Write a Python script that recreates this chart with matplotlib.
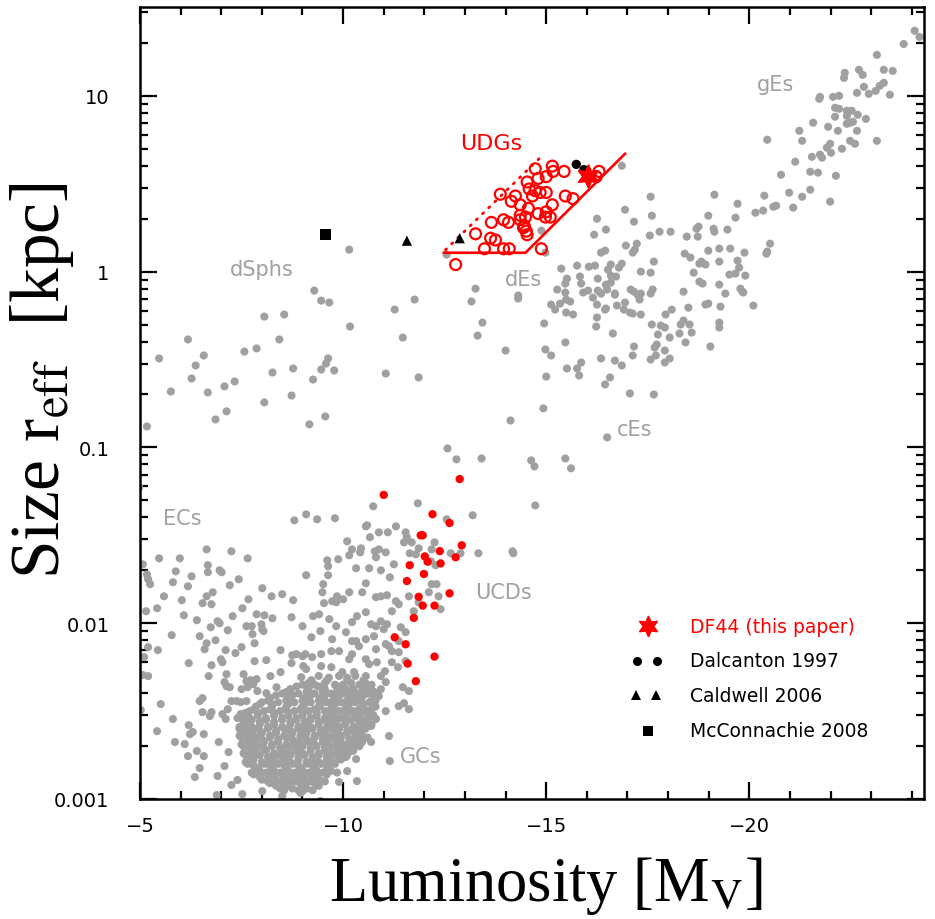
import numpy as np
import matplotlib
matplotlib.use("Agg")
import matplotlib.pyplot as plt
from matplotlib.ticker import FixedLocator, NullFormatter

# ---------------- data (Mv, log10 r_eff[kpc]) ----------------
gEs = [(-24.07, 1.37), (-24.19, 1.335), (-23.80, 1.295), (-23.14, 1.233), (-22.35, 1.131),
       (-22.33, 1.102), (-22.70, 1.148), (-22.79, 1.119), (-23.31, 1.148), (-23.53, 1.142),
       (-22.82, 1.051), (-22.65, 1.017), (-22.94, 1.011), (-23.11, 1.028), (-23.21, 1.057),
       (-23.31, 1.074), (-23.46, 1.006), (-21.72, 0.983), (-21.74, 0.994), (-22.06, 0.994),
       (-22.21, 1.0), (-22.11, 0.932), (-22.21, 0.926), (-22.40, 0.915), (-22.52, 0.915),
       (-22.40, 0.886), (-22.67, 0.892), (-22.11, 0.881), (-22.87, 0.869), (-22.48, 0.847),
       (-22.40, 0.841), (-22.55, 0.852), (-21.94, 0.824), (-21.57, 0.847), (-21.23, 0.801),
       (-22.18, 0.801), (-22.65, 0.801), (-21.30, 0.744), (-20.44, 0.75), (-22.48, 0.744),
       (-22.60, 0.727), (-23.14, 0.744), (-21.99, 0.727), (-21.91, 0.705), (-22.01, 0.676),
       (-22.28, 0.699), (-21.74, 0.665), (-21.79, 0.648), (-21.54, 0.653), (-21.13, 0.625),
       (-20.78, 0.551), (-21.50, 0.568), (-21.69, 0.563), (-22.13, 0.545), (-21.50, 0.466),
       (-21.30, 0.426), (-20.98, 0.449), (-21.99, 0.398), (-21.08, 0.364), (-20.37, 0.432),
       (-20.66, 0.375), (-20.59, 0.369), (-20.34, 0.347), (-20.15, 0.335), (-19.71, 0.386),
       (-19.66, 0.307), (-19.14, 0.4375), (-18.99, 0.318), (-20.51, 0.159), (-20.42, 0.102),
       (-20.44, 0.114)]

dEs = [(-16.86, 0.602), (-17.57, 0.426), (-16.94, 0.352), (-17.60, 0.318), (-16.25, 0.301),
       (-17.16, 0.284), (-18.75, 0.256), (-18.70, 0.244), (-19.12, 0.244), (-19.14, 0.227),
       (-19.46, 0.239), (-18.06, 0.227), (-17.79, 0.227), (-16.47, 0.239), (-16.18, 0.210),
       (-17.55, 0.205), (-18.46, 0.199), (-18.73, 0.199), (-18.99, 0.119), (-19.26, 0.131),
       (-19.53, 0.131), (-19.88, 0.108), (-18.41, 0.102), (-18.55, 0.080), (-17.23, 0.159),
       (-17.18, 0.125), (-17.13, 0.108), (-16.96, 0.148), (-17.65, 0.057), (-17.33, 0.0),
       (-17.57, -0.006), (-16.86, 0.045), (-16.79, 0.023), (-16.59, 0.040), (-16.35, 0.108),
       (-16.45, 0.119), (-18.82, 0.057), (-18.92, 0.040), (-18.77, 0.045), (-19.26, 0.057),
       (-19.71, 0.0625), (-19.75, 0.023), (-19.90, -0.023), (-19.66, -0.011), (-19.51, -0.017),
       (-18.63, -0.006), (-18.77, -0.057), (-18.85, -0.068), (-19.26, -0.074), (-19.41, -0.125),
       (-19.78, -0.097), (-19.85, -0.119), (-18.38, -0.114), (-15.76, 0.034), (-16.05, 0.028),
       (-16.20, 0.034), (-16.27, -0.040), (-15.83, -0.028), (-15.86, -0.068), (-16.03, -0.108),
       (-16.27, -0.108), (-16.52, 0.011), (-16.59, -0.023), (-16.72, -0.028), (-16.59, -0.0625),
       (-16.47, -0.074), (-16.50, -0.102), (-16.69, -0.125), (-17.08, -0.102), (-17.16, -0.114),
       (-17.33, -0.125), (-17.57, -0.125), (-17.62, -0.102), (-15.37, 0.017), (-15.51, -0.040),
       (-15.47, -0.068), (-15.27, -0.102), (-15.47, -0.119), (-14.88, 0.233), (-14.98, 0.108),
       (-14.31, -0.136), (-15.12, -0.1875), (-15.34, -0.182), (-15.22, -0.216), (-15.49, -0.159),
       (-15.59, -0.170), (-15.49, -0.233), (-15.66, -0.244), (-15.91, -0.119), (-16.15, -0.148),
       (-16.35, -0.125), (-16.25, -0.1875), (-16.47, -0.210), (-16.45, -0.216), (-16.69, -0.131),
       (-16.74, -0.193), (-16.94, -0.176), (-16.91, -0.216), (-17.06, -0.233), (-17.13, -0.239),
       (-17.25, -0.131), (-17.30, -0.159), (-17.33, -0.244), (-18.50, -0.205), (-18.92, -0.1875),
       (-18.99, -0.182), (-19.29, -0.199), (-19.83, -0.114), (-20.10, -0.193), (-14.95, -0.295),
       (-16.25, -0.261), (-16.23, -0.3125), (-16.64, -0.352), (-17.60, -0.301), (-17.82, -0.307),
       (-17.92, -0.318), (-17.94, -0.244), (-18.09, -0.216), (-18.38, -0.278), (-18.31, -0.301),
       (-18.53, -0.301), (-18.28, -0.352), (-18.04, -0.375), (-17.75, -0.358), (-17.72, -0.415),
       (-17.67, -0.432), (-17.92, -0.449), (-17.70, -0.477), (-17.57, -0.5), (-18.04, -0.494),
       (-17.92, -0.517), (-18.43, -0.403), (-18.58, -0.347), (-19.04, -0.426), (-19.26, -0.290),
       (-19.26, -0.318), (-15.47, -0.403), (-14.98, -0.443), (-15.12, -0.477), (-14.00, -0.449),
       (-15.51, -0.551), (-15.76, -0.551), (-15.81, -0.591), (-15.86, -0.517), (-16.35, -0.494),
       (-16.69, -0.506), (-16.86, -0.534), (-17.13, -0.477), (-17.16, -0.426), (-15.00, -0.597),
       (-16.57, -0.602), (-16.45, -0.642), (-17.06, -0.693), (-17.65, -0.699)]

cEs = [(-14.93, -0.778), (-14.12, -0.847), (-16.50, -0.943), (-14.63, -1.074), (-14.71, -1.108),
       (-15.47, -1.063), (-15.61, -1.119), (-14.73, -1.330), (-14.17, -1.591)]

dSphs = [(-10.15, 0.125), (-9.29, -0.108), (-13.26, -0.097), (-12.55, 0.097), (-14.31, -0.153),
         (-9.46, -0.165), (-9.66, -0.176), (-11.76, -0.159), (-11.27, -0.216), (-13.16, -0.170),
         (-13.43, -0.290), (-13.31, -0.364), (-8.06, -0.256), (-8.55, -0.244), (-10.17, -0.3125),
         (-6.18, -0.386), (-8.43, -0.386), (-7.57, -0.455), (-7.87, -0.437), (-11.47, -0.375),
         (-5.47, -0.494), (-6.57, -0.477), (-6.37, -0.534), (-9.63, -0.494), (-9.58, -0.523),
         (-9.46, -0.557), (-9.78, -0.5625), (-9.26, -0.614), (-8.77, -0.551), (-8.26, -0.574),
         (-6.27, -0.608), (-7.33, -0.625), (-7.08, -0.653), (-5.76, -0.682), (-6.67, -0.6875),
         (-8.73, -0.705), (-8.06, -0.744), (-11.05, -0.580), (-11.86, -0.602), (-7.13, -0.795),
         (-6.86, -0.841), (-9.56, -0.824), (-9.17, -0.869), (-5.17, -0.881), (-4.98, -1.227),
         (-12.57, -1.006), (-12.79, -1.068), (-13.41, -1.063)]

UCDs = [(-10.74, -1.335), (-8.80, -1.415), (-9.09, -1.381), (-9.36, -1.409), (-9.80, -1.403),
        (-11.84, -1.318), (-12.55, -1.409), (-13.19, -1.386), (-10.56, -1.449), (-10.59, -1.443),
        (-10.88, -1.483), (-11.10, -1.483), (-11.30, -1.449), (-11.54, -1.483), (-10.66, -1.511),
        (-10.10, -1.534), (-10.22, -1.580), (-10.44, -1.574), (-10.42, -1.597), (-10.78, -1.591),
        (-10.88, -1.580), (-11.05, -1.597), (-10.81, -1.625), (-11.50, -1.540), (-11.57, -1.511),
        (-11.69, -1.540), (-11.64, -1.602), (-11.79, -1.608), (-11.86, -1.574), (-12.25, -1.540),
        (-12.65, -1.602), (-12.89, -1.602), (-13.33, -1.602), (-14.19, -1.602), (-9.61, -1.642),
        (-9.63, -1.676), (-9.88, -1.636), (-10.15, -1.614), (-10.32, -1.6875), (-10.64, -1.6875),
        (-10.93, -1.699), (-11.25, -1.665), (-11.15, -1.739), (-12.18, -1.580), (-12.16, -1.648),
        (-12.28, -1.670), (-9.09, -1.727), (-9.63, -1.727), (-9.51, -1.778), (-9.49, -1.824),
        (-9.85, -1.847), (-9.73, -1.875), (-9.83, -1.881), (-9.53, -1.886), (-10.00, -1.864),
        (-10.15, -1.824), (-10.47, -1.824), (-10.56, -1.773), (-10.81, -1.852), (-10.93, -1.847),
        (-11.08, -1.841), (-11.30, -1.875), (-11.37, -1.892), (-11.20, -1.932), (-11.62, -1.847),
        (-11.74, -1.932), (-11.86, -1.881), (-12.11, -1.824), (-12.18, -1.778), (-12.30, -1.778),
        (-12.35, -1.847), (-12.40, -1.920), (-9.26, -1.960), (-9.41, -1.949), (-9.66, -1.977),
        (-9.00, -2.017), (-9.22, -2.080), (-9.44, -2.045), (-9.73, -2.091), (-9.83, -2.017),
        (-10.07, -2.051), (-10.22, -1.994), (-10.34, -1.960), (-10.56, -1.9375), (-10.69, -2.006),
        (-10.81, -2.017), (-10.93, -1.989), (-11.00, -2.034), (-11.08, -2.006), (-10.22, -2.102),
        (-10.32, -2.102), (-10.39, -2.131), (-10.56, -2.091), (-10.76, -2.074), (-10.81, -2.148),
        (-11.05, -2.119), (-11.13, -2.131), (-11.37, -2.102), (-11.42, -2.023), (-11.54, -2.051),
        (-11.37, -2.165), (-11.20, -2.159), (-10.83, -2.222), (-11.20, -2.222), (-11.54, -2.216),
        (-11.35, -2.25), (-11.03, -2.273), (-10.56, -2.205), (-10.64, -2.233), (-10.22, -2.176),
        (-10.15, -2.205), (-9.90, -2.159), (-9.71, -2.159), (-9.46, -2.176), (-9.24, -2.193),
        (-9.00, -2.1875), (-9.46, -2.244), (-9.71, -2.25), (-9.98, -2.278), (-10.27, -2.278),
        (-10.56, -2.301), (-10.93, -2.301), (-11.05, -2.335), (-10.93, -2.375), (-10.69, -2.375),
        (-10.88, -2.415), (-10.69, -2.443), (-10.47, -2.472), (-10.27, -2.432), (-10.07, -2.375),
        (-9.83, -2.358), (-11.05, -2.5), (-11.37, -2.472), (-11.47, -2.364), (-11.62, -2.386),
        (-11.50, -2.455), (-11.62, -2.489), (-11.13, -2.642), (-11.15, -2.784), (-10.69, -2.528),
        (-10.81, -2.545), (-10.56, -2.574), (-10.69, -2.585), (-10.39, -2.602), (-10.15, -2.614),
        (-10.47, -2.676), (-10.69, -2.676), (-10.20, -2.727), (-10.07, -2.761), (-10.32, -2.773),
        (-10.10, -2.841), (-10.34, -2.898), (-9.90, -2.903), (-9.44, -3.011), (-9.46, -2.898),
        (-9.61, -2.830), (-9.24, -2.847), (-9.00, -2.955)]

ECs = [(-5.07, -1.665), (-5.47, -1.631), (-5.98, -1.631), (-6.64, -1.580), (-7.25, -1.591),
       (-7.65, -1.631), (-6.67, -1.670), (-6.67, -1.710), (-5.17, -1.722), (-5.20, -1.75),
       (-5.25, -1.778), (-5.88, -1.705), (-6.27, -1.733), (-5.81, -1.767), (-6.18, -1.790),
       (-6.96, -1.699), (-7.01, -1.710), (-7.43, -1.75), (-7.21, -1.784), (-6.79, -1.824),
       (-6.64, -1.847), (-6.54, -1.886), (-6.76, -1.892), (-6.03, -1.869), (-5.59, -1.847),
       (-5.42, -1.915), (-5.15, -1.932), (-6.08, -1.955), (-6.40, -1.983), (-6.91, -1.989),
       (-6.96, -2.0), (-6.74, -2.023), (-7.16, -2.040), (-7.28, -1.960), (-7.52, -1.915),
       (-7.67, -1.864), (-7.87, -1.949), (-8.06, -1.955), (-8.26, -1.972), (-8.24, -1.847),
       (-8.50, -1.835), (-8.77, -1.869), (-8.73, -1.966), (-8.01, -1.801), (-7.62, -2.017),
       (-7.75, -2.017), (-7.99, -2.006), (-8.01, -2.034), (-8.04, -2.045), (-7.77, -2.0625),
       (-7.82, -2.114), (-5.78, -2.068), (-6.47, -2.074), (-6.86, -2.097), (-6.64, -2.114),
       (-6.59, -2.148), (-7.11, -2.153), (-7.35, -2.170), (-7.50, -2.136), (-5.44, -2.153),
       (-5.20, -2.136), (-5.10, -2.193), (-5.07, -2.295), (-5.20, -2.301), (-6.20, -2.227),
       (-6.76, -2.239), (-6.99, -2.205), (-7.03, -2.222), (-7.82, -2.216), (-8.11, -2.210),
       (-8.46, -2.153), (-8.75, -2.182), (-8.85, -2.176), (-8.73, -2.227), (-8.46, -2.278),
       (-8.21, -2.301), (-9.07, -2.176), (-9.02, -2.244), (-9.09, -2.261), (-8.97, -2.307),
       (-9.22, -2.324), (-6.69, -2.301), (-7.13, -2.290), (-7.08, -2.335), (-7.13, -2.358),
       (-7.21, -2.364), (-7.55, -2.290), (-7.62, -2.330), (-7.72, -2.324), (-7.79, -2.347),
       (-7.87, -2.318), (-7.65, -2.364), (-7.50, -2.375), (-7.89, -2.386), (-8.11, -2.398),
       (-8.36, -2.364), (-8.60, -2.392), (-5.51, -2.460), (-5.02, -2.494), (-5.81, -2.545),
       (-6.47, -2.443), (-6.54, -2.426), (-6.54, -2.506), (-6.72, -2.528), (-6.76, -2.506),
       (-7.03, -2.517), (-7.11, -2.545), (-7.16, -2.489), (-7.25, -2.443), (-7.38, -2.443),
       (-7.48, -2.449), (-7.62, -2.443), (-7.48, -2.517), (-5.42, -2.614), (-6.20, -2.580),
       (-6.23, -2.631), (-6.30, -2.619), (-6.57, -2.631), (-5.86, -2.676), (-6.10, -2.6875),
       (-6.18, -2.756), (-6.40, -2.727), (-6.57, -2.756), (-6.47, -2.824), (-6.35, -2.875),
       (-6.91, -2.869), (-6.94, -2.676), (-7.08, -2.8125), (-7.18, -2.733), (-7.25, -2.920),
       (-7.40, -2.892), (-6.89, -2.977), (-7.52, -2.972), (-8.01, -2.955), (-8.50, -2.983),
       (-8.95, -2.966)]

# dense GC core: rows of (log r, [Mv, ...]) read from the crowded cloud
GC_core = [
    (-2.300, [-9.4, -9.9, -10.3]),
    (-2.310, [-9.65, -10.1]),
    (-2.325, [-9.6, -10.1, -10.5]),
    (-2.340, [-9.15, -9.55, -10.2, -10.55]),
    (-2.350, [-9.0, -9.3, -9.8, -10.0, -10.4, -10.7]),
    (-2.360, [-8.85, -9.4, -9.95, -10.6]),
    (-2.375, [-8.7, -9.15, -9.55, -9.9, -10.25, -10.55]),
    (-2.390, [-8.7, -9.1, -9.5, -9.85, -10.15, -10.45, -10.75]),
    (-2.400, [-8.5, -8.9, -9.3, -9.7, -10.0, -10.3, -10.6, -10.85]),
    (-2.410, [-8.35, -8.75, -9.2, -9.55, -9.9, -10.2, -10.5]),
    (-2.425, [-8.2, -8.65, -9.05, -9.45, -9.85, -10.15, -10.45, -10.75]),
    (-2.440, [-8.15, -8.6, -9.0, -9.4, -9.75, -10.1, -10.45, -10.8]),
    (-2.450, [-8.0, -8.4, -8.8, -9.2, -9.6, -9.95, -10.3, -10.65]),
    (-2.460, [-7.95, -8.25, -8.65, -9.05, -9.45, -9.8, -10.15, -10.5]),
    (-2.475, [-7.85, -8.25, -8.6, -9.0, -9.4, -9.75, -10.1, -10.5, -10.8]),
    (-2.490, [-7.8, -8.2, -8.6, -8.95, -9.3, -9.7, -10.05, -10.4, -10.7]),
    (-2.500, [-7.7, -8.05, -8.45, -8.8, -9.15, -9.55, -9.9, -10.25, -10.6]),
    (-2.510, [-7.6, -7.9, -8.3, -8.65, -9.0, -9.35, -9.75, -10.1, -10.45]),
    (-2.525, [-7.55, -7.9, -8.3, -8.65, -9.0, -9.35, -9.7, -10.05, -10.4, -10.75]),
    (-2.540, [-7.4, -7.7, -8.1, -8.5, -8.85, -9.2, -9.55, -9.9, -10.25, -10.6]),
    (-2.550, [-7.75, -8.1, -8.5, -8.85, -9.2, -9.55, -9.85, -10.2, -10.55]),
    (-2.560, [-7.55, -7.95, -8.3, -8.7, -9.05, -9.4, -9.7, -10.05, -10.4]),
    (-2.575, [-7.6, -7.95, -8.3, -8.7, -9.05, -9.4, -9.75, -10.05, -10.4, -10.7]),
    (-2.590, [-7.45, -7.75, -8.15, -8.5, -8.9, -9.2, -9.6, -9.9, -10.25, -10.55]),
    (-2.600, [-7.45, -7.8, -8.15, -8.55, -8.9, -9.25, -9.6, -9.9, -10.25, -10.55]),
    (-2.610, [-7.6, -7.95, -8.35, -8.7, -9.05, -9.45, -9.75, -10.1, -10.4]),
    (-2.625, [-7.65, -8.0, -8.35, -8.75, -9.1, -9.45, -9.8, -10.1, -10.45]),
    (-2.640, [-7.45, -7.8, -8.2, -8.55, -8.95, -9.3, -9.6, -9.95, -10.3]),
    (-2.650, [-7.5, -7.85, -8.2, -8.6, -8.95, -9.3, -9.65, -9.95, -10.3, -10.6]),
    (-2.660, [-7.65, -8.0, -8.4, -8.75, -9.1, -9.5, -9.8, -10.15, -10.45]),
    (-2.675, [-7.7, -8.05, -8.4, -8.8, -9.15, -9.5, -9.85, -10.2]),
    (-2.690, [-7.5, -7.85, -8.25, -8.6, -8.95, -9.3, -9.65, -10.0, -10.35]),
    (-2.700, [-7.55, -7.9, -8.25, -8.65, -9.0, -9.35, -9.7, -10.05, -10.4]),
    (-2.710, [-7.7, -8.05, -8.45, -8.8, -9.2, -9.55, -9.85, -10.2]),
    (-2.725, [-7.75, -8.1, -8.5, -8.85, -9.2, -9.55, -9.9, -10.25]),
    (-2.740, [-7.55, -7.9, -8.3, -8.65, -9.0, -9.4, -9.7, -10.05]),
    (-2.750, [-7.6, -7.95, -8.35, -8.7, -9.05, -9.4, -9.75, -10.1]),
    (-2.760, [-7.75, -8.15, -8.5, -8.9, -9.25, -9.6, -9.9]),
    (-2.775, [-7.8, -8.2, -8.55, -8.9, -9.25, -9.6, -9.95]),
    (-2.790, [-7.6, -8.0, -8.35, -8.7, -9.1, -9.4, -9.75]),
    (-2.800, [-7.65, -8.05, -8.4, -8.75, -9.1, -9.45, -9.8]),
    (-2.810, [-7.8, -8.2, -8.55, -8.9, -9.25, -9.6]),
    (-2.825, [-7.9, -8.25, -8.6, -8.95, -9.3, -9.65]),
    (-2.840, [-7.95, -8.3, -8.65, -9.0, -9.35, -9.7]),
    (-2.850, [-7.75, -8.1, -8.45, -8.8, -9.15, -9.5, -9.85]),
    (-2.860, [-7.8, -8.15, -8.5, -8.85, -9.2, -9.6]),
    (-2.875, [-7.95, -8.3, -8.65, -9.0, -9.35]),
    (-2.890, [-8.0, -8.35, -8.7, -9.05, -9.4]),
    (-2.900, [-8.15, -8.5, -8.85, -9.2, -9.55]),
    (-2.910, [-8.2, -8.55, -8.95, -9.3]),
    (-2.925, [-8.35, -8.7, -9.05, -9.4]),
    (-2.940, [-8.45, -8.75, -9.1]),
    (-2.950, [-8.55, -8.9, -9.25]),
]

red_UCDs = [(-12.87, -1.18), (-11.00, -1.27), (-12.20, -1.38), (-12.62, -1.43), (-11.91, -1.50),
            (-11.96, -1.50), (-12.92, -1.557), (-12.38, -1.59), (-12.01, -1.62), (-12.77, -1.625),
            (-12.08, -1.65), (-12.40, -1.66), (-11.64, -1.67), (-11.99, -1.72), (-11.57, -1.76),
            (-12.62, -1.83), (-11.86, -1.85), (-11.96, -1.90), (-12.25, -1.90), (-11.74, -1.97),
            (-11.27, -2.08), (-11.54, -2.12), (-12.25, -2.19), (-11.59, -2.23), (-11.79, -2.33)]

UDGs = [(-14.73, 0.585), (-15.15, 0.60), (-15.17, 0.57), (-15.44, 0.57), (-16.30, 0.57),
        (-14.80, 0.53), (-15.00, 0.54), (-14.53, 0.51), (-14.58, 0.47), (-14.73, 0.46),
        (-14.85, 0.45), (-15.00, 0.45), (-14.66, 0.43), (-13.87, 0.44), (-14.24, 0.43),
        (-14.14, 0.40), (-14.36, 0.38), (-15.47, 0.43), (-15.66, 0.415), (-15.15, 0.38),
        (-14.56, 0.36), (-14.80, 0.33), (-15.00, 0.34), (-14.98, 0.31), (-15.10, 0.31),
        (-14.36, 0.32), (-14.49, 0.31), (-14.36, 0.295), (-14.46, 0.26), (-14.51, 0.23),
        (-14.44, 0.25), (-14.53, 0.21), (-13.65, 0.28), (-13.95, 0.295), (-14.07, 0.28),
        (-13.26, 0.215), (-13.63, 0.19), (-13.75, 0.18), (-13.48, 0.13), (-13.95, 0.13),
        (-14.09, 0.13), (-14.88, 0.13), (-12.77, 0.04), (-16.23, 0.54)]

DF44 = (-16.03, 0.545)
dalcanton = [(-15.74, 0.61), (-15.93, 0.58)]
caldwell = [(-11.57, 0.176), (-12.87, 0.19)]
mcconnachie = [(-9.56, 0.21)]

# UDG selection region (Mv, r in kpc)
udg_solid_mv = [-12.48, -14.49, -16.94]
udg_solid_r = [1.28, 1.28, 4.68]
udg_dot_mv = [-12.52, -14.95]
udg_dot_r = [1.33, 4.68]

group_labels = [("gEs", -20.64, 11.7), ("dSphs", -7.99, 1.03), ("dEs", -14.44, 0.91),
                ("cEs", -17.18, 0.128), ("ECs", -6.05, 0.0395), ("UCDs", -13.95, 0.0150),
                ("GCs", -11.91, 0.00175)]

legend_entries = ["DF44 (this paper)", "Dalcanton 1997", "Caldwell 2006", "McConnachie 2008"]

# ---------------- plotting ----------------
plt.rcParams['font.family'] = ['DejaVu Sans']
plt.rcParams['mathtext.fontset'] = 'stix'

GRAY = '#a0a0a0'
RED = '#ff0000'

fig = plt.figure(figsize=(9.35, 9.2), dpi=100)
ax = fig.add_axes([140/935, 1-800/920, 784/935, 792/920])

def split(pts):
    a = np.array(pts, dtype=float)
    return a[:, 0], 10**a[:, 1]

gray_groups = [gEs, dEs, cEs, dSphs, UCDs, ECs]
for g in gray_groups:
    x, y = split(g)
    ax.scatter(x, y, s=34, color=GRAY, edgecolors='none', zorder=2)
core_x, core_y = [], []
for lr, mvs in GC_core:
    for m in mvs:
        core_x.append(m)
        core_y.append(10**lr)
ax.scatter(core_x, core_y, s=34, color=GRAY, edgecolors='none', zorder=2)

x, y = split(red_UCDs)
ax.scatter(x, y, s=36, color=RED, edgecolors='none', zorder=3)

x, y = split(UDGs)
ax.scatter(x, y, s=62, facecolors='none', edgecolors=RED, linewidths=1.6, zorder=4)

ax.plot(udg_solid_mv, udg_solid_r, color=RED, lw=1.9, zorder=4)
ax.plot(udg_dot_mv, udg_dot_r, color=RED, lw=2.0, ls=(0, (0.5, 2.6)), zorder=4,
        dash_capstyle='round')

x, y = split(dalcanton)
ax.scatter(x, y, s=45, color='black', edgecolors='none', zorder=5)
x, y = split(caldwell)
ax.scatter(x, y, s=55, marker='^', color='black', edgecolors='none', zorder=5)
x, y = split(mcconnachie)
ax.scatter(x, y, s=60, marker='s', color='black', edgecolors='none', zorder=5)
ax.plot([DF44[0]], [10**DF44[1]], marker=(6, 1, 0), ms=17, color=RED, mec=RED, zorder=6,
        ls='none')

ax.text(-13.65, 5.4, "UDGs", color=RED, fontsize=16, ha='center', va='center')
for name, mv, r in group_labels:
    ax.text(mv, r, name, color=GRAY, fontsize=15, ha='center', va='center')

# legend (drawn in axes fraction)
leg_y = [0.218, 0.1745, 0.131, 0.086]
ax.plot([0.648], [leg_y[0]], transform=ax.transAxes, marker=(6, 1, 0), ms=15, color=RED,
        ls='none', clip_on=False)
ax.plot([0.634, 0.660], [leg_y[1]] * 2, transform=ax.transAxes, marker='o', ms=6.5,
        color='black', ls='none', mew=0)
ax.plot([0.633, 0.658], [leg_y[2]] * 2, transform=ax.transAxes, marker='^', ms=7.5,
        color='black', ls='none', mew=0)
ax.plot([0.648], [leg_y[3]], transform=ax.transAxes, marker='s', ms=6.5,
        color='black', ls='none', mew=0)
for i, t in enumerate(legend_entries):
    ax.text(0.7015, leg_y[i], t, transform=ax.transAxes, fontsize=13.5,
            color=RED if i == 0 else 'black', ha='left', va='center')

# axes
ax.set_xlim(-5, -24.3)
ax.set_yscale('log')
ax.set_ylim(1e-3, 32)
ax.xaxis.set_major_locator(FixedLocator([-5, -10, -15, -20]))
ax.xaxis.set_minor_locator(FixedLocator(np.arange(-6, -25, -1)))
ax.set_xticklabels(['\u22125', '\u221210', '\u221215', '\u221220'])
ax.set_yticks([1e-3, 1e-2, 1e-1, 1, 10])
ax.set_yticklabels(['0.001', '0.01', '0.1', '1', '10'])
ax.yaxis.set_minor_locator(matplotlib.ticker.LogLocator(base=10, subs=np.arange(2, 10)))
ax.yaxis.set_minor_formatter(NullFormatter())
ax.tick_params(which='both', direction='in', top=True, right=True, width=1.6, colors='black')
ax.tick_params(which='major', length=12, labelsize=14, pad=12)
ax.tick_params(axis='y', which='major', pad=22)
ax.tick_params(which='minor', length=6)
for s in ax.spines.values():
    s.set_linewidth(1.8)

ax.set_xlabel(r'Luminosity [M$_{\mathrm{V}}$]', fontsize=45, family='Liberation Serif')
ax.xaxis.set_label_coords(0.518, -0.108)
ax.xaxis.label.set_va('center')
ax.set_ylabel(r'Size r$_{\mathrm{eff}}$  [kpc]', fontsize=50, family='Liberation Serif')
ax.yaxis.set_label_coords(-0.125, 0.53)
ax.yaxis.label.set_va('center')

fig.savefig('out.png', dpi=100)
